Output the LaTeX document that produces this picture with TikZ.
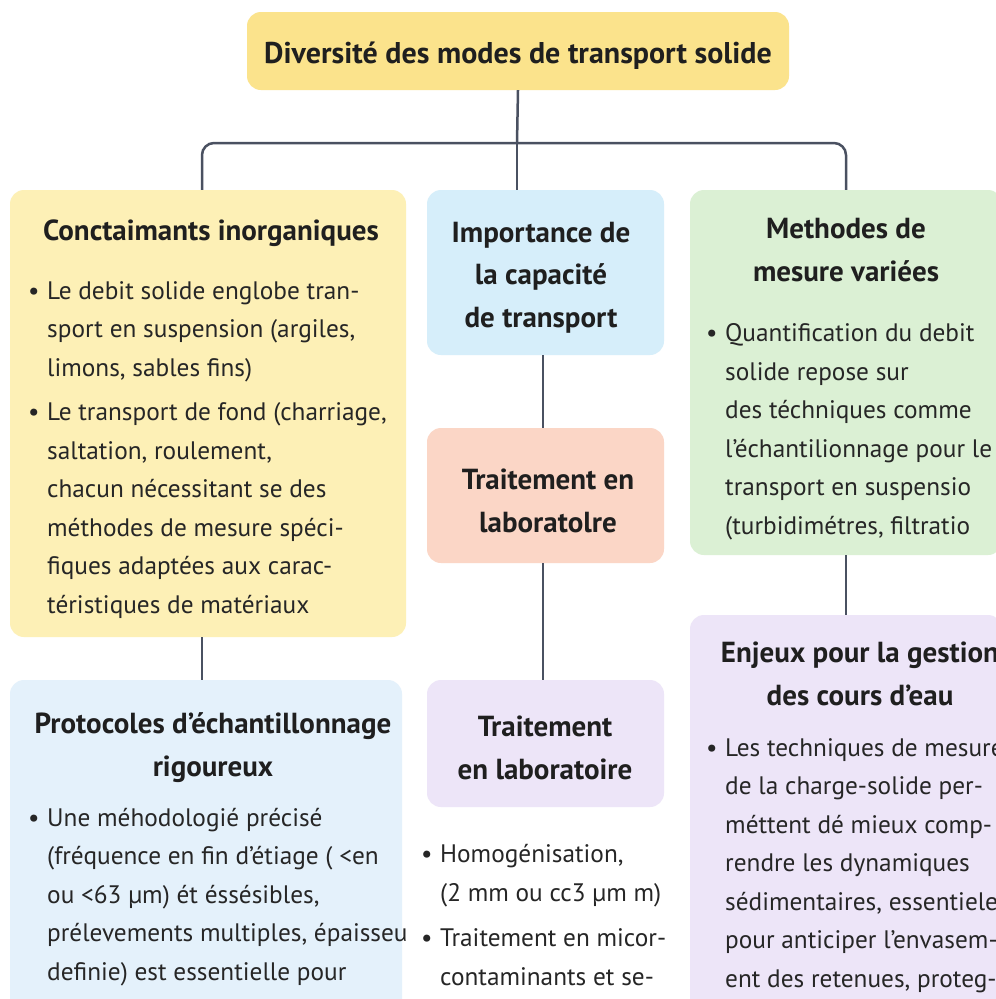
\documentclass[tikz,border=0pt]{standalone}
\usepackage{fontspec}
\setmainfont{PT Sans}
\usepackage{tikz}
\usetikzlibrary{positioning}

\definecolor{lineGray}{HTML}{4A5161}
\definecolor{topYellow}{HTML}{FBE38C}
\definecolor{paleYellow}{HTML}{FDF0B6}
\definecolor{paleBlue}{HTML}{D6EEFA}
\definecolor{paleGreen}{HTML}{DBF0D4}
\definecolor{salmon}{HTML}{FBD6C6}
\definecolor{lavender}{HTML}{EDE5F8}
\definecolor{iceBlue}{HTML}{E4F1FB}

\tikzset{
  card/.style={shape=rectangle, rounded corners=14pt, draw=none, inner sep=0pt},
  head/.style={font=\fontsize{29}{42.5}\selectfont\bfseries, align=center, text=black!88, inner sep=0pt, anchor=base},
  body/.style={font=\fontsize{25.3}{38.5}\selectfont, align=left, text=black!85, inner sep=0pt, anchor=base west},
  link/.style={draw=lineGray, line width=2.5pt, rounded corners=12pt},
}
\newcommand{\blt}{\makebox[19pt][l]{\textbullet}}
\newcommand{\ind}{\hspace*{19pt}}

\begin{document}
\begin{tikzpicture}[x=1pt, y=-1pt]
    \useasboundingbox (0,0) rectangle (996,999);
    \clip (0,0) rectangle (996,999);
    \fill[white] (0,0) rectangle (996,999);

    % boxes
    \node[card, fill=topYellow, minimum width=542pt, minimum height=78pt] at (518,51) (diversite) {};
    \node[card, fill=paleYellow, minimum width=396pt, minimum height=447pt] at (208,413.5) (conta) {};
    \node[card, fill=paleBlue, minimum width=237pt, minimum height=165pt] at (545.5,272.5) (capacite) {};
    \node[card, fill=paleGreen, minimum width=312pt, minimum height=365pt] at (846,372.5) (methodes) {};
    \node[card, fill=salmon, minimum width=237pt, minimum height=135pt] at (545.5,495.5) (traitA) {};
    \node[card, fill=lavender, minimum width=237pt, minimum height=127pt] at (545.5,743.5) (traitB) {};
    \node[card, fill=iceBlue, minimum width=392pt, minimum height=360pt] at (206,860) (protocoles) {};
    \node[card, fill=lavender, minimum width=312pt, minimum height=425pt] at (846,827.5) (enjeux) {};

    % connectors
    \coordinate (fork) at (517,143);
    \draw[link] (diversite.south) -- (fork);
    \draw[link] ([xshift=-6pt]conta.north) |- (fork) -| (methodes.north);
    \draw[link] (fork) -- (fork |- capacite.north);
    \draw[link] ([xshift=-2.5pt]capacite.south) -- ([xshift=-2.5pt]traitA.north);
    \draw[link] ([xshift=-2.5pt]traitA.south) -- ([xshift=-2.5pt]traitB.north);
    \draw[link] ([xshift=-6pt]conta.south) -- ([xshift=-6pt]conta.south |- protocoles.north);
    \draw[link] (methodes.south) -- (enjeux.north);

    % titles (anchored on the baseline of the last line)
    \node[head, font=\fontsize{30}{42}\selectfont\bfseries] at (518,63) (diversiteT) {Diversité des modes de transport solide};
    \node[head] at (211,240) (contaT) {Conctaimants inorganiques};
    \node[head] at (541,327) (capaciteT) {Importance de\\la capacité\\de transport};
    \node[head] at (846,281) (methodesT) {Methodes de\\mesure variées};
    \node[head] at (548,532) (traitAT) {Traitement en\\laboratolre};
    \node[head] at (545,779) (traitBT) {Traitement\\en laboratoire};
    \node[head] at (213,776) (protocolesT) {Protocoles d’échantillonnage\\rigoureux};
    \node[head] at (860,705) (enjeuxT) {Enjeux pour la gestion\\des cours d’eau};

    % bullet texts
    \node[body] at (28,613) (contaB) {\blt Le debit solide englobe tran-\\
        \ind sport en suspension (argiles,\\
        \ind limons, sables fins)\\[6pt]
        \blt Le transport de fond (charriage,\\
        \ind saltation, roulement,\\
        \ind chacun nécessitant se des\\
        \ind méthodes de mesure spéci-\\
        \ind fiques adaptées aux carac-\\
        \ind téristiques de matériaux};
    \node[body] at (706,534) (methodesB) {\blt Quantification du debit\\
        \ind solide repose sur\\
        \ind des téchniques comme\\
        \ind l’échantilionnage pour le\\
        \ind transport en suspensio\\
        \ind (turbidimétres, filtratio};
    \node[body] at (28,980) (protocolesB) {\blt Une méhodologié précisé\\
        \ind (fréquence en fin d’étiage ( <en\\
        \ind ou <63 µm) ét éssésibles,\\
        \ind prélevements multiples, épaisseu\\
        \ind definie) est essentielle pour};
    \node[body] at (421,985) (traitBB) {\blt Homogénisation,\\
        \ind (2 mm ou cc3 µm m)\\[7pt]
        \blt Traitement en micor-\\
        \ind contaminants et se-};
    \node[body] at (706,987) (enjeuxB) {\blt Les techniques de mesure\\
        \ind de la charge-solide per-\\
        \ind méttent dé mieux comp-\\
        \ind rendre les dynamiques\\
        \ind sédimentaires, essentieles\\
        \ind pour anticiper l’envasem-\\
        \ind ent des retenues, proteg-};
\end{tikzpicture}
\end{document}
